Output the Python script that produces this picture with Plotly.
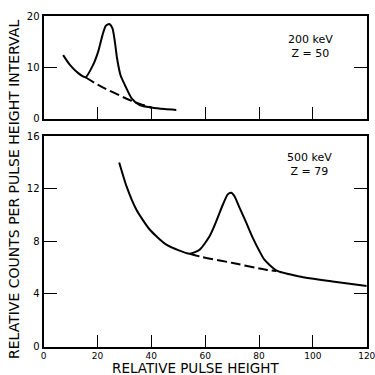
import plotly.graph_objects as go

# ---- data ----
top_solid_x = [7.3, 9.8, 12.9, 15.6, 18.4, 20.3, 21.9, 23.1, 24.4, 25.6, 26.5, 27.3, 28.6, 30.2, 32.7, 35.7, 40.1, 45.0, 49.3]
top_solid_y = [12.4, 10.5, 8.9, 8.1, 10.5, 13.1, 16.3, 18.1, 18.45, 17.6, 15.0, 11.8, 8.5, 6.6, 4.0, 2.7, 2.2, 1.9, 1.75]
top_dash_x = [15.6, 20.3, 26.5, 32.7, 37.0, 40.1]
top_dash_y = [8.1, 6.6, 5.0, 3.5, 2.7, 2.2]

bot_solid_x = [28.1, 30.8, 34.5, 39.4, 45.6, 54.3, 58.0, 61.7, 64.1, 66.6, 68.4, 69.7, 70.9, 72.8, 75.3, 77.7, 80.2, 82.0, 86.4, 95.0, 107.3, 120.0]
bot_solid_y = [14.0, 12.2, 10.4, 8.9, 7.75, 7.06, 7.37, 8.4, 9.5, 10.8, 11.57, 11.7, 11.43, 10.55, 9.4, 8.26, 7.24, 6.6, 5.79, 5.33, 4.95, 4.6]
bot_dash_x = [54.3, 58.0, 70.3, 82.6, 86.4]
bot_dash_y = [7.06, 6.85, 6.35, 5.84, 5.75]

x_ticks = [0, 20, 40, 60, 80, 100, 120]
top_y_ticks = [0, 10, 20]
bot_y_ticks = [0, 4, 8, 12, 16]

top_label = "200 keV<br>Z = 50"
bot_label = "500 keV<br>Z = 79"
x_title = "RELATIVE PULSE HEIGHT"
y_title = "RELATIVE COUNTS PER PULSE HEIGHT INTERVAL"

FONT = "DejaVu Sans"
line_style = dict(color="black", width=2)

fig = go.Figure()
fig.add_trace(go.Scatter(x=top_solid_x, y=top_solid_y, mode="lines", line=dict(**line_style, shape="spline", smoothing=0.6),
                         xaxis="x", yaxis="y", showlegend=False))
fig.add_trace(go.Scatter(x=top_dash_x, y=top_dash_y, mode="lines", line=dict(**line_style, dash="10px,4px", shape="spline"),
                         xaxis="x", yaxis="y", showlegend=False))
fig.add_trace(go.Scatter(x=bot_solid_x, y=bot_solid_y, mode="lines", line=dict(**line_style, shape="spline", smoothing=0.6),
                         xaxis="x2", yaxis="y2", showlegend=False))
fig.add_trace(go.Scatter(x=bot_dash_x, y=bot_dash_y, mode="lines", line=dict(**line_style, dash="10px,4px", shape="spline"),
                         xaxis="x2", yaxis="y2", showlegend=False))

xdom = [0.116, 0.978]
common_x = dict(range=[0, 120], domain=xdom, tickvals=x_ticks, ticks="inside", ticklen=12, tickwidth=1,
                tickcolor="black", showline=True, linecolor="black", linewidth=2, mirror=True,
                showgrid=False, zeroline=False, automargin=False, ticklabeloverflow="allow",
                tickfont=dict(family=FONT, size=9, color="black"))
common_y = dict(ticks="inside", ticklen=13, tickwidth=1, tickcolor="black", showline=True, linecolor="black",
                linewidth=2, mirror="ticks", showgrid=False, zeroline=False, automargin=False,
                tickfont=dict(family=FONT, size=10, color="black"))

fig.update_layout(
    width=375, height=375,
    margin=dict(l=0, r=0, t=0, b=0),
    paper_bgcolor="white", plot_bgcolor="white",
    xaxis=dict(**common_x, anchor="y", showticklabels=False),
    yaxis=dict(**common_y, range=[0, 20], domain=[0.683, 0.957], tickvals=top_y_ticks, anchor="x"),
    xaxis2=dict(**common_x, anchor="y2"),
    yaxis2=dict(**common_y, range=[0, 16], domain=[0.076, 0.637], tickvals=bot_y_ticks, anchor="x2"),
    annotations=[
        dict(text=top_label, x=310/375, y=1 - 46/375, xref="paper", yref="paper", showarrow=False,
             xanchor="center", yanchor="middle",
             font=dict(family=FONT, size=11, color="black"), align="center"),
        dict(text=bot_label, x=309/375, y=1 - 165/375, xref="paper", yref="paper", showarrow=False,
             xanchor="center", yanchor="middle",
             font=dict(family=FONT, size=11, color="black"), align="center"),
        dict(text=x_title, x=195/375, y=1 - 368/375, xref="paper", yref="paper", showarrow=False,
             xanchor="center", yanchor="middle",
             font=dict(family=FONT, size=13.5, color="black")),
        dict(text=y_title, x=14/375, y=1 - 190/375, xref="paper", yref="paper", showarrow=False,
             xanchor="center", yanchor="middle",
             textangle=-90, font=dict(family=FONT, size=14, color="black")),
    ],
)

fig.write_html("out.html")
